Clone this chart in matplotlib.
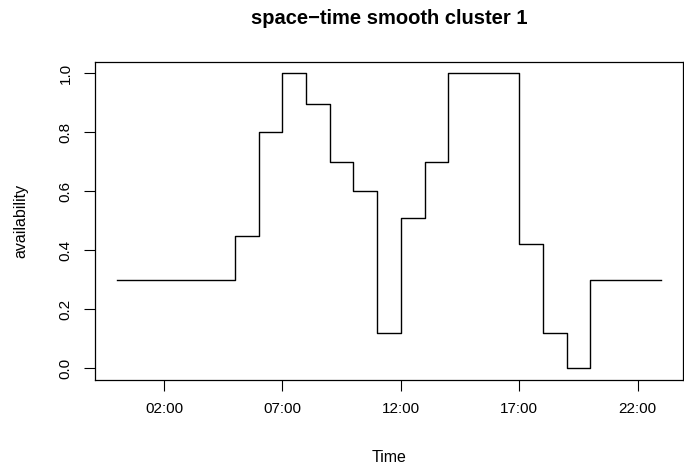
import numpy as np
import matplotlib
matplotlib.use("Agg")
import matplotlib.pyplot as plt

plt.rcParams['font.family'] = ['Liberation Sans', 'DejaVu Sans']

# hourly availability (step plot, value holds until next hour)
hours = np.arange(0, 24)
availability = [0.3, 0.3, 0.3, 0.3, 0.3, 0.45, 0.8, 1.0, 0.895, 0.70,
                0.60, 0.12, 0.51, 0.70, 1.0, 1.0, 1.0, 0.42, 0.12, 0.0,
                0.3, 0.3, 0.3, 0.3]
tick_hours = [2, 7, 12, 17, 22]
tick_labels = ['02:00', '07:00', '12:00', '17:00', '22:00']
y_ticks = [0.0, 0.2, 0.4, 0.6, 0.8, 1.0]

fig = plt.figure(figsize=(6.84, 4.67), dpi=100)
ax = fig.add_axes([95 / 684, 1 - 380 / 467, 588 / 684, 318.3 / 467])

ax.plot(hours, availability, drawstyle='steps-post', color='black', lw=1.0)

# R-style 4% axis padding
ax.set_xlim(-0.92, 23.92)
ax.set_ylim(-0.04, 1.04)

ax.set_xticks(tick_hours)
ax.set_xticklabels(tick_labels)
ax.set_yticks(y_ticks)
ax.set_yticklabels([f'{v:.1f}' for v in y_ticks], rotation=90, va='center')
ax.tick_params(direction='out', length=8, width=0.8, labelsize=11, pad=8)

for s in ax.spines.values():
    s.set_linewidth(0.9)

ax.set_xlabel('Time', fontsize=11.5, va='center')
ax.xaxis.set_label_coords(0.5, -(457 - 380) / 318.3)
ax.set_ylabel('availability', fontsize=11.5, va='center')
ax.yaxis.set_label_coords(-(95 - 21) / 588, 0.5)

fig.text(389 / 684, 1 - 18 / 467, 'space\u2212time smooth cluster 1',
         ha='center', va='center', fontsize=14.5, fontweight='bold')

fig.savefig('out.png', dpi=100)
